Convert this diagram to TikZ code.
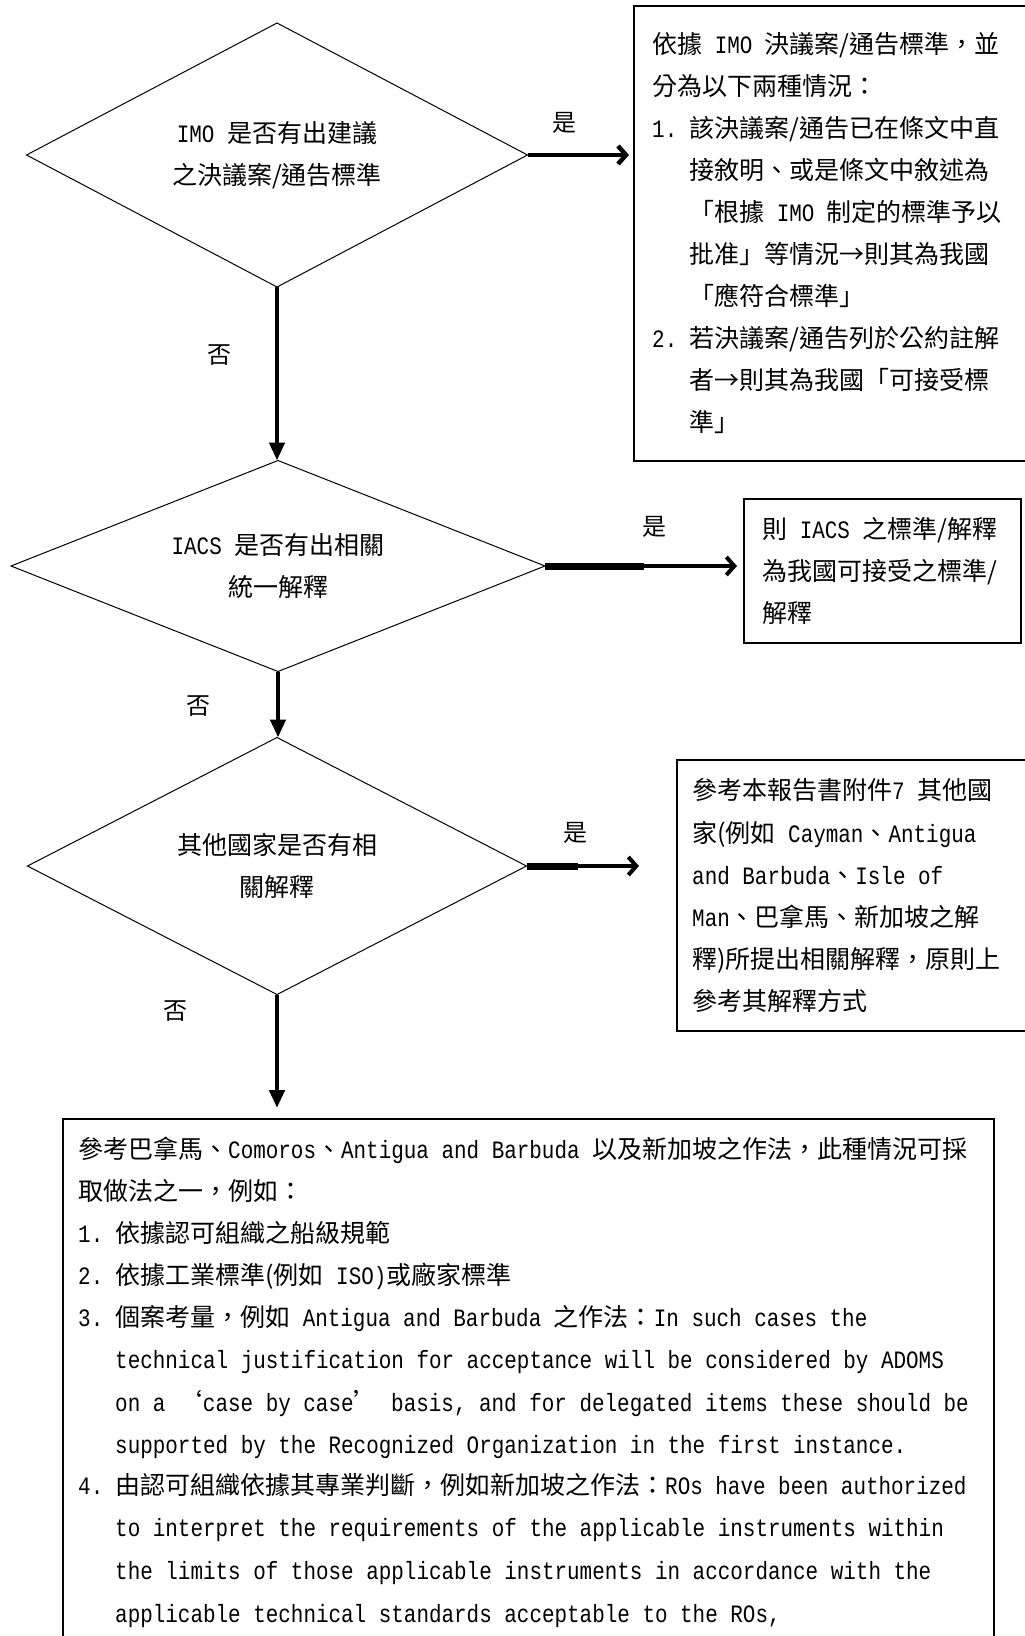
\documentclass[tikz,border=0pt]{standalone}
\usepackage{fontspec}
\setmainfont{Noto Sans CJK TC}
\newfontfamily\latf[FakeStretch=0.837]{Liberation Mono}
\newcommand{\enf}[1]{{\latf #1}}
\usetikzlibrary{shapes.geometric,arrows.meta}
\tikzset{
  dec/.style={diamond, draw=black, line width=1pt, inner sep=0pt, outer sep=0pt},
  dectext/.style={inner sep=0pt, align=center, font=\fontsize{25pt}{42pt}\selectfont},
  boxst/.style={rectangle, draw=black, line width=1.6pt, inner sep=0pt, outer sep=0pt},
  ln/.style={anchor=west, inner sep=0pt, text height=22pt, text depth=3pt, font=\fontsize{25pt}{30pt}\selectfont},
  lbl/.style={inner sep=0pt, font=\fontsize{24pt}{28pt}\selectfont},
  vflow/.style={line width=4.5pt, -{Triangle[length=18pt,width=15pt]}},
  hflow/.style={line width=4.5pt, -{Straight Barb[length=8pt,width=18pt]}},
}
\begin{document}
\begin{tikzpicture}[x=1pt,y=-1pt]
\useasboundingbox (0,0) rectangle (1025,1636);
\fill[white] (0,0) rectangle (1025,1636);

% decisions
\node[dec, minimum width=501pt, minimum height=264pt] (d1) at (277,155) {};
\node[dectext] (d1t) at (d1.center) {\enf{IMO }是否有出建議\\之決議案/通告標準};
\node[dec, minimum width=534pt, minimum height=211pt] (d2) at (278,566) {};
\node[dectext] (d2t) at (d2.center) {\enf{IACS }是否有出相關\\統一解釋};
\node[dec, minimum width=499pt, minimum height=257pt] (d3) at (277,866) {};
\node[dectext] (d3t) at (d3.center) {其他國家是否有相\\關解釋};

% boxes
\node[boxst, minimum width=401pt, minimum height=455pt] (b1) at (834.5,233.5) {};
\node[boxst, minimum width=277pt, minimum height=144pt] (b2) at (882.5,571) {};
\node[boxst, minimum width=358pt, minimum height=271pt] (b3) at (856,895.5) {};
\node[boxst, minimum width=931pt, minimum height=531pt] (b4) at (528.5,1384.5) {};

% arrow end points
\coordinate (a1e) at (629,155);
\coordinate (a2m) at (644,566);
\coordinate (a2e) at (737,566);
\coordinate (a3m) at (578,866);
\coordinate (a3e) at (639,866);

% connectors
\draw[hflow] (d1.east) -- (a1e);
\draw[vflow] (d1.south) -- (d1.south |- d2.north);
\draw[line width=7pt] (d2.east) -- (a2m);
\draw[hflow, line width=4pt] (a2m) -- (a2e);
\draw[vflow] (d2.south) -- (d2.south |- d3.north);
\draw[line width=7pt] (d3.east) -- (a3m);
\draw[hflow, line width=4pt] (a3m) -- (a3e);
\draw[vflow, shorten >=11pt] (d3.south) -- (d3.south |- b4.north);

% labels
\node[lbl] (y1) at (564,123) {是};
\node[lbl] (n1) at (219,355) {否};
\node[lbl] (y2) at (654,527) {是};
\node[lbl] (n2) at (198,706) {否};
\node[lbl] (y3) at (575,833) {是};
\node[lbl] (n3) at (175,1011) {否};

% box 1 text
\node[ln] (b1l1) at (652,44) {依據\enf{ IMO }決議案/通告標準，並};
\node[ln] (b1l2) at (652,86) {分為以下兩種情況：};
\node[ln] (b1n1) at (652,128) {\enf{1.}};
\node[ln] (b1l3) at (689,128) {該決議案/通告已在條文中直};
\node[ln] (b1l4) at (689,170) {接敘明、或是條文中敘述為};
\node[ln] (b1l5) at (689,212) {「根據\enf{ IMO }制定的標準予以};
\node[ln] (b1l6) at (689,254) {批准」等情況→則其為我國};
\node[ln] (b1l7) at (689,296) {「應符合標準」};
\node[ln] (b1n2) at (652,338) {\enf{2.}};
\node[ln] (b1l8) at (689,338) {若決議案/通告列於公約註解};
\node[ln] (b1l9) at (689,380) {者→則其為我國「可接受標};
\node[ln] (b1l10) at (689,422) {準」};

% box 2 text
\node[ln] (b2l1) at (762,529) {則\enf{ IACS }之標準/解釋};
\node[ln] (b2l2) at (762,571) {為我國可接受之標準/};
\node[ln] (b2l3) at (762,613) {解釋};

% box 3 text
\node[ln] (b3l1) at (692,790) {參考本報告書附件\enf{7 }其他國};
\node[ln] (b3l2) at (692,833) {家(例如\enf{ Cayman}、\enf{Antigua}};
\node[ln] (b3l3) at (692,875) {\enf{and Barbuda}、\enf{Isle of}};
\node[ln] (b3l4) at (692,917) {\enf{Man}、巴拿馬、新加坡之解};
\node[ln] (b3l5) at (692,959) {釋)所提出相關解釋，原則上};
\node[ln] (b3l6) at (692,1001) {參考其解釋方式};

% box 4 text
\node[ln] (b4l1) at (78,1149) {參考巴拿馬、\enf{Comoros}、\enf{Antigua and Barbuda }以及新加坡之作法，此種情況可採};
\node[ln] (b4l2) at (78,1191) {取做法之一，例如：};
\node[ln] (b4n1) at (78,1233) {\enf{1.}};
\node[ln] (b4l3) at (115,1233) {依據認可組織之船級規範};
\node[ln] (b4n2) at (78,1274.5) {\enf{2.}};
\node[ln] (b4l4) at (115,1274.5) {依據工業標準(例如\enf{ ISO)}或廠家標準};
\node[ln] (b4n3) at (78,1317) {\enf{3.}};
\node[ln] (b4l5) at (115,1317) {個案考量，例如\enf{ Antigua and Barbuda }之作法：\enf{In such cases the}};
\node[ln] (b4l6) at (115,1359) {\enf{technical justification for acceptance will be considered by ADOMS}};
\node[ln] (b4l7) at (115,1402) {\enf{on a }‘\enf{case by case}’\enf{ basis, and for delegated items these should be}};
\node[ln] (b4l8) at (115,1444) {\enf{supported by the Recognized Organization in the first instance.}};
\node[ln] (b4n4) at (78,1485) {\enf{4.}};
\node[ln] (b4l9) at (115,1485) {由認可組織依據其專業判斷，例如新加坡之作法：\enf{ROs have been authorized}};
\node[ln] (b4l10) at (115,1527) {\enf{to interpret the requirements of the applicable instruments within}};
\node[ln] (b4l11) at (115,1570) {\enf{the limits of those applicable instruments in accordance with the}};
\node[ln] (b4l12) at (115,1613) {\enf{applicable technical standards acceptable to the ROs,}};
\end{tikzpicture}
\end{document}
